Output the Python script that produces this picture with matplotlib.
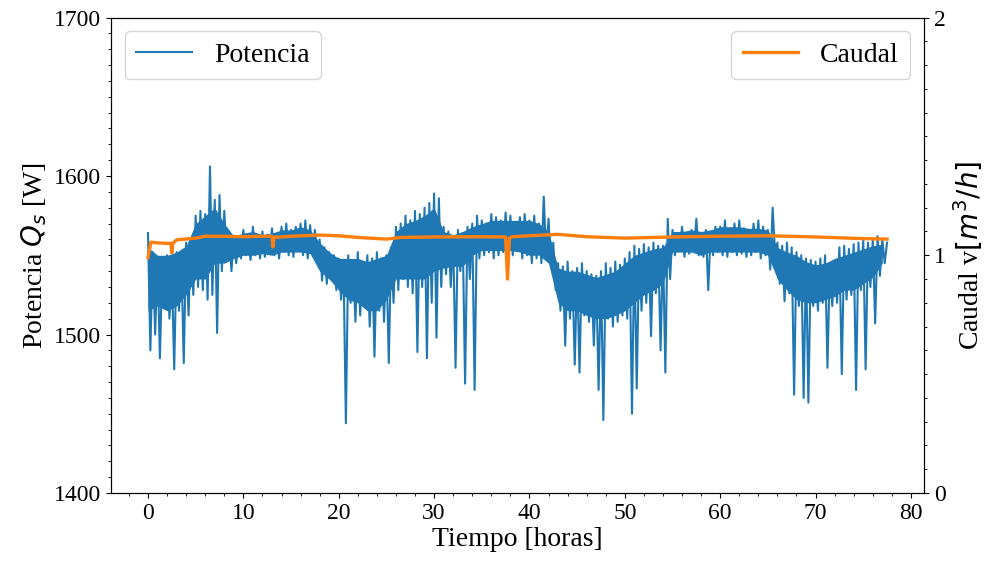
#!/usr/bin/env python3
"""Potencia y caudal frente al tiempo (dos ejes y)."""

import matplotlib
matplotlib.use("Agg")
import matplotlib.pyplot as plt
from matplotlib.ticker import MultipleLocator
import numpy as np

# ---------------------------------------------------------------------------
# Data
# ---------------------------------------------------------------------------

# Potencia Q_s [W], one sample every STEP_H hours starting at t = 0
STEP_H = 0.25
potencia = [
    1564, 1490, 1552, 1500,  1548, 1485, 1545, 1520,  1550, 1510, 1540, 1478,
    1552, 1515, 1548, 1482,  1558, 1512, 1560, 1525,  1575, 1530, 1578, 1528,
    1576, 1522, 1606, 1525,  1585, 1501, 1588, 1540,  1578, 1548, 1565, 1540,
    1562, 1545, 1560, 1548,  1566, 1550, 1560, 1547,  1568, 1550, 1562, 1548,
    1565, 1549, 1563, 1551,  1567, 1550, 1562, 1548,  1568, 1552, 1570, 1550,
    1566, 1549, 1568, 1553,  1570, 1550, 1572, 1548,  1569, 1551, 1566, 1547,
    1560, 1534, 1555, 1532,  1552, 1538, 1550, 1528,  1548, 1522, 1545, 1444,
    1550, 1520, 1547, 1508,  1552, 1512, 1545, 1518,  1550, 1505, 1548, 1486,
    1552, 1515, 1548, 1508,  1550, 1482, 1555, 1520,  1568, 1528, 1570, 1535,
    1575, 1530, 1572, 1526,  1578, 1489, 1576, 1530,  1580, 1485, 1583, 1520,
    1589, 1498, 1586, 1530,  1568, 1538, 1565, 1530,  1562, 1479, 1566, 1540,
    1564, 1469, 1568, 1535,  1570, 1465, 1575, 1548,  1572, 1550, 1570, 1552,
    1576, 1548, 1574, 1550,  1572, 1552, 1577, 1549,  1575, 1550, 1570, 1553,
    1574, 1548, 1576, 1550,  1572, 1545, 1575, 1548,  1570, 1545, 1587, 1550,
    1573, 1545, 1558, 1528,  1545, 1515, 1543, 1493,  1546, 1510, 1540, 1481,
    1542, 1476, 1545, 1512,  1540, 1508, 1538, 1493,  1537, 1465, 1540, 1446,
    1545, 1510, 1542, 1505,  1546, 1508, 1544, 1512,  1548, 1510, 1552, 1450,
    1556, 1466, 1554, 1515,  1557, 1520, 1555, 1499,  1558, 1526, 1556, 1490,
    1556, 1476, 1573, 1535,  1566, 1550, 1562, 1553,  1568, 1549, 1564, 1551,
    1566, 1552, 1573, 1550,  1562, 1549, 1566, 1528,  1565, 1550, 1568, 1552,
    1568, 1550, 1572, 1549,  1566, 1552, 1570, 1550,  1572, 1551, 1567, 1549,
    1566, 1550, 1570, 1552,  1572, 1548, 1568, 1550,  1566, 1541, 1580, 1552,
    1558, 1532, 1556, 1521,  1558, 1526, 1555, 1462,  1552, 1518, 1550, 1460,
    1548, 1457, 1547, 1518,  1546, 1515, 1548, 1520,  1550, 1479, 1545, 1518,
    1546, 1520, 1555, 1475,  1556, 1522, 1554, 1525,  1557, 1465, 1558, 1528,
    1560, 1478, 1558, 1530,  1560, 1507, 1562, 1537,  1560, 1545, 1558,
]

# dense core of the power signal, hourly (top / bottom of the solid band)
banda_sup = [
    1555, 1550, 1550, 1552, 1556, 1570, 1575, 1580, 1570, 1562,
    1564, 1565, 1563, 1564, 1566, 1566, 1568, 1566, 1558, 1552,
    1548, 1548, 1548, 1546, 1548, 1550, 1565, 1570, 1572, 1575,
    1580, 1565, 1563, 1565, 1568, 1570, 1572, 1572, 1572, 1572,
    1572, 1570, 1565, 1542, 1540, 1540, 1538, 1536, 1538, 1540,
    1545, 1550, 1552, 1554, 1555, 1565, 1565, 1566, 1565, 1566,
    1568, 1568, 1568, 1567, 1567, 1566, 1555, 1552, 1550, 1546,
    1544, 1545, 1548, 1550, 1552, 1554, 1556, 1557,
]
banda_inf = [
    1515, 1518, 1515, 1518, 1525, 1535, 1535, 1545, 1545, 1548,
    1550, 1550, 1551, 1550, 1552, 1552, 1552, 1551, 1540, 1535,
    1528, 1522, 1520, 1515, 1515, 1522, 1535, 1535, 1535, 1535,
    1540, 1542, 1543, 1543, 1550, 1553, 1553, 1553, 1553, 1552,
    1550, 1550, 1545, 1520, 1515, 1515, 1512, 1510, 1510, 1512,
    1515, 1520, 1525, 1528, 1532, 1552, 1552, 1552, 1550, 1552,
    1552, 1552, 1552, 1552, 1552, 1550, 1535, 1528, 1522, 1520,
    1520, 1522, 1524, 1528, 1528, 1532, 1536, 1545,
]

# Caudal v [m3/h] at irregular times [h]
caudal_t = [0.0, 0.3, 1.0, 2.0, 2.4, 2.5, 2.6, 3.0, 5.0, 6.0, 8.0, 10.0,
            12.0, 13.0, 13.1, 13.2, 15.0, 18.0, 20.0, 22.0, 25.0, 26.5,
            30.0, 35.0, 37.5, 37.7, 37.9, 38.2, 40.0, 43.0, 46.0, 50.0,
            55.0, 60.0, 65.0, 70.0, 75.0, 77.5]
caudal_v = [0.99, 1.055, 1.052, 1.05, 1.05, 1.01, 1.05, 1.065, 1.072, 1.08,
            1.08, 1.078, 1.08, 1.08, 1.035, 1.075, 1.08, 1.085, 1.082, 1.075,
            1.068, 1.075, 1.077, 1.078, 1.077, 0.90, 1.072, 1.078, 1.082,
            1.088, 1.078, 1.072, 1.077, 1.08, 1.082, 1.077, 1.07, 1.068]

# ---------------------------------------------------------------------------
# Plot
# ---------------------------------------------------------------------------

plt.rcParams["font.family"] = ["Liberation Serif", "DejaVu Serif"]
AZUL = "#1f77b4"
NARANJA = "#ff7f0e"

tiempo = np.arange(len(potencia)) * STEP_H
horas = np.arange(len(banda_sup))

fig = plt.figure(figsize=(9.87, 5.63), dpi=100)
ax1 = fig.add_axes([0.1125, 0.1243, 0.8237, 0.8446])
ax2 = ax1.twinx()

ax1.fill_between(horas, banda_inf, banda_sup, color=AZUL, lw=0, zorder=2)
ax1.plot(tiempo, potencia, color=AZUL, lw=1.5, label="Potencia", zorder=3)
ax2.plot(caudal_t, caudal_v, color=NARANJA, lw=2.4, label="Caudal")

ax1.set_ylim(1400, 1700)
ax2.set_ylim(0, 2)
ax1.set_xlim(-3.875, 81.375)

ax1.xaxis.set_major_locator(MultipleLocator(10))
ax1.xaxis.set_minor_locator(MultipleLocator(2))
ax1.yaxis.set_major_locator(MultipleLocator(100))
ax1.yaxis.set_minor_locator(MultipleLocator(10))
ax2.yaxis.set_major_locator(MultipleLocator(1))
ax2.yaxis.set_minor_locator(MultipleLocator(0.1))

ax1.tick_params(labelsize=17)
ax2.tick_params(labelsize=17)

ax1.set_xlabel("Tiempo [horas]", fontsize=20, labelpad=2)
ax1.set_ylabel("Potencia $Q_s$ [W]", fontsize=20)
ax2.set_ylabel("Caudal v$[m^3/h]$", fontsize=20)

ax1.legend(loc="upper left", fontsize=20)
ax2.legend(loc="upper right", fontsize=20)

fig.savefig("out.png", dpi=100)
